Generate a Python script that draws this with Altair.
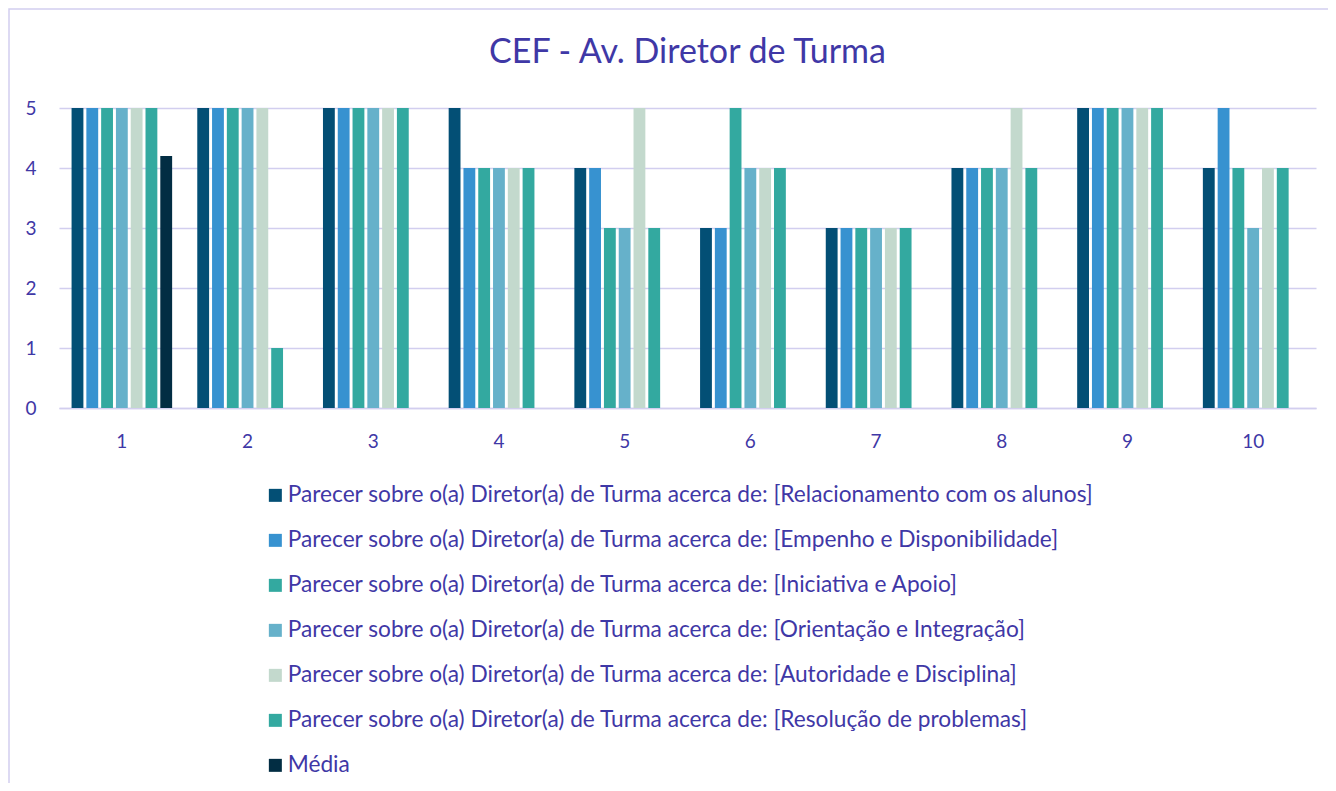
import altair as alt
import pandas as pd

categories = ["1", "2", "3", "4", "5", "6", "7", "8", "9", "10"]
series_names = [
    "Parecer sobre o(a) Diretor(a) de Turma acerca de: [Relacionamento com os alunos]",
    "Parecer sobre o(a) Diretor(a) de Turma acerca de: [Empenho e Disponibilidade]",
    "Parecer sobre o(a) Diretor(a) de Turma acerca de: [Iniciativa e Apoio]",
    "Parecer sobre o(a) Diretor(a) de Turma acerca de: [Orientação e Integração]",
    "Parecer sobre o(a) Diretor(a) de Turma acerca de: [Autoridade e Disciplina]",
    "Parecer sobre o(a) Diretor(a) de Turma acerca de: [Resolução de problemas]",
    "Média",
]
relacionamento = [5, 5, 5, 5, 4, 3, 3, 4, 5, 4]
empenho = [5, 5, 5, 4, 4, 3, 3, 4, 5, 5]
iniciativa = [5, 5, 5, 4, 3, 5, 3, 4, 5, 4]
orientacao = [5, 5, 5, 4, 3, 4, 3, 4, 5, 3]
autoridade = [5, 5, 5, 4, 5, 4, 3, 5, 5, 4]
resolucao = [5, 1, 5, 4, 3, 4, 3, 4, 5, 4]
media = [4.2, None, None, None, None, None, None, None, None, None]

colors = ["#034F75", "#3792D0", "#33A9A0", "#66B1CA", "#C3D9CD", "#33A9A0", "#022D43"]

all_series = [relacionamento, empenho, iniciativa, orientacao, autoridade, resolucao, media]
rows = []
for name, vals in zip(series_names, all_series):
    for c, v in zip(categories, vals):
        if v is not None:
            rows.append({"cat": c, "serie": name, "valor": v})
df = pd.DataFrame(rows)

text_color = "#3F38A6"
grid_color = "#D2CEEF"
font = "Lato"

W, H = 1257, 300

frame = alt.Chart(pd.DataFrame({"k": [0]})).mark_rect(
    fill=None, stroke=grid_color, strokeWidth=1.5
).encode(
    x=alt.value(-50), x2=alt.value(W + 40),
    y=alt.value(-99), y2=alt.value(H + 420)
)

bars = alt.Chart(df).mark_bar().encode(
    x=alt.X("cat:N", sort=categories, title=None,
            scale=alt.Scale(paddingInner=0.2, paddingOuter=0.1),
            axis=alt.Axis(labelAngle=0, ticks=False, domainColor=grid_color, domainWidth=1.5,
                          labelColor=text_color, labelFontSize=19, labelPadding=24, labelFont=font)),
    xOffset=alt.XOffset("serie:N", sort=series_names,
                        scale=alt.Scale(domain=series_names, paddingInner=0.2, paddingOuter=0)),
    y=alt.Y("valor:Q", title=None,
            scale=alt.Scale(domain=[0, 5], nice=False),
            axis=alt.Axis(values=[0, 1, 2, 3, 4, 5], ticks=False, domain=False,
                          gridColor=grid_color, gridWidth=1.5,
                          labelColor=text_color, labelFontSize=19, labelPadding=23, labelFont=font)),
    color=alt.Color("serie:N", sort=series_names,
                    scale=alt.Scale(domain=series_names, range=colors),
                    legend=alt.Legend(title=None, orient="none", legendX=205, legendY=376,
                                      direction="vertical", symbolType="square", symbolSize=169,
                                      symbolStrokeWidth=0, labelFontSize=22.7, labelColor=text_color,
                                      labelFont=font, labelOffset=1, rowPadding=21, padding=0,
                                      labelLimit=0)),
)

chart = alt.layer(frame, bars).properties(
    width=W, height=H,
    title=alt.TitleParams("CEF - Av. Diretor de Turma", fontSize=34, color=text_color,
                          font=font, fontWeight="normal", anchor="middle", offset=-62),
    autosize=alt.AutoSizeParams(type="none"),
    padding={"left": 51, "top": 100, "right": 12, "bottom": 375},
).configure_view(stroke=None)

chart.save("out.html", embed_options={"renderer": "svg", "actions": False})
